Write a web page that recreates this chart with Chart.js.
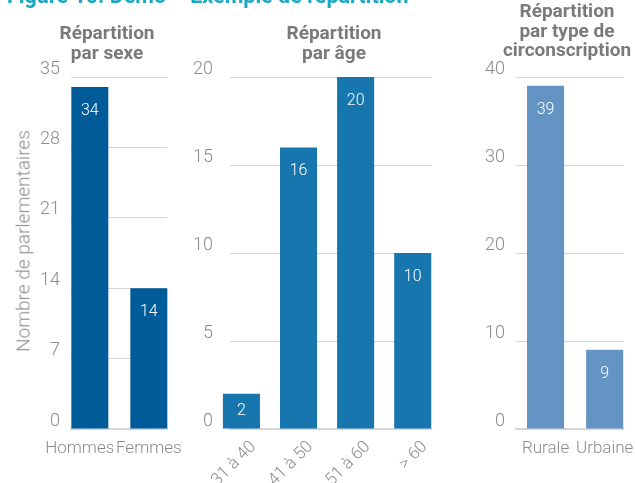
<!DOCTYPE html>
<html>
<head>
<meta charset="utf-8">
<script src="https://cdn.jsdelivr.net/npm/chart.js@4.4.1/dist/chart.umd.min.js"></script>
<style>
  body { margin: 0; width: 635px; height: 483px; overflow: hidden; background: #fff; position: relative;
         font-family: Roboto, 'Liberation Sans', sans-serif; }
  .box { position: absolute; top: 0; height: 483px; }
  .title { position: absolute; text-align: center; font-weight: bold; font-size: 19px; line-height: 19.5px;
           color: #7a7a7a; white-space: nowrap; }
  #fig { position: absolute; left: 7px; top: -17px; color: #1ba9c2; font-weight: bold; font-size: 21.5px; white-space: nowrap; }
  #ytitle { position: absolute; left: 23px; top: 241px; transform: translate(-50%, -50%) rotate(-90deg);
            color: #8c8c8c; font-weight: 300; font-size: 19px; white-space: nowrap; }
</style>
</head>
<body>
<div class="box" style="left:0;width:190px"><canvas id="sexChart"></canvas></div>
<div class="box" style="left:180px;width:265px"><canvas id="ageChart"></canvas></div>
<div class="box" style="left:445px;width:190px"><canvas id="zoneChart"></canvas></div>

<div id="fig">Figure 10. Démo – Exemple de répartition</div>
<div class="title" style="left:47px;width:120px;top:23px">Répartition<br>par sexe</div>
<div class="title" style="left:274px;width:120px;top:23px">Répartition<br>par âge</div>
<div class="title" style="left:492px;width:150px;top:1px">Répartition<br>par type de<br>circonscription</div>
<div id="ytitle"></div>

<script>
// data
const sexLabels = ['Hommes', 'Femmes'];
const sexValues = [34, 14];
const sexTicks = { max: 35, step: 7 };

const ageLabels = ['31 à 40', '41 à 50', '51 à 60', '> 60'];
const ageValues = [2, 16, 20, 10];
const ageTicks = { max: 20, step: 5 };

const zoneLabels = ['Rurale', 'Urbaine'];
const zoneValues = [39, 9];
const zoneTicks = { max: 40, step: 10 };

const yTitle = 'Nombre de parlementaires';
document.getElementById('ytitle').textContent = yTitle;

const GREY = '#8c8c8c';
const GRID = '#d6d6d6';
const FONT = "Roboto, 'Liberation Sans', sans-serif";

// white value labels inside the top of each bar
const valueLabels = {
    id: 'valueLabels',
    afterDatasetsDraw(chart) {
        const ctx = chart.ctx;
        const ds = chart.data.datasets[0];
        ctx.save();
        ctx.font = '300 16px ' + FONT;
        ctx.fillStyle = '#ffffff';
        ctx.textAlign = 'center';
        ctx.textBaseline = 'middle';
        chart.getDatasetMeta(0).data.forEach(function (bar, i) {
            const h = bar.base - bar.y;
            ctx.fillText(ds.data[i].y, bar.x, bar.y + Math.min(24, h / 2));
        });
        ctx.restore();
    }
};

function makeChart(id, labels, values, ticks, cfg) {
    const ctx = document.getElementById(id).getContext('2d');
    const shift = cfg.labelShift || [];
    return new Chart(ctx, {
        type: 'bar',
        data: {
            datasets: [{
                data: values.map((v, i) => ({ x: i, y: v })),
                backgroundColor: cfg.color,
                borderWidth: 0,
                categoryPercentage: 1,
                barPercentage: cfg.barPct,
                clip: false
            }]
        },
        options: {
            responsive: true,
            maintainAspectRatio: false,
            animation: false,
            layout: { padding: { top: 77, right: cfg.padRight, bottom: 0, left: 0 } },
            plugins: { legend: { display: false }, tooltip: { enabled: false } },
            scales: {
                x: {
                    type: 'linear',
                    offset: false,
                    min: cfg.xMin,
                    max: cfg.xMax,
                    afterBuildTicks: (scale) => {
                        scale.ticks = labels.map((l, i) => ({ value: i + (shift[i] || 0), label: l }));
                    },
                    afterFit: (scale) => {
                        scale.height = 54;
                        scale.paddingLeft = 0;
                        scale.paddingRight = 0;
                    },
                    grid: { display: false, drawTicks: false, offset: false },
                    border: { display: true, color: GRID, width: 2 },
                    ticks: {
                        autoSkip: false,
                        minRotation: cfg.rotate,
                        maxRotation: cfg.rotate,
                        padding: cfg.xPad,
                        labelOffset: cfg.xLabelOffset,
                        color: GREY,
                        font: { family: FONT, size: cfg.xFont, weight: 300 },
                        callback: (v, i) => labels[i] ?? ''
                    }
                },
                y: {
                    min: 0,
                    max: ticks.max,
                    afterFit: (scale) => {
                        scale.width = cfg.axisWidth;
                        scale.paddingTop = 0;
                        scale.paddingBottom = 0;
                    },
                    grid: { color: GRID, lineWidth: 1, drawTicks: false },
                    border: { display: false },
                    ticks: {
                        stepSize: ticks.step,
                        padding: cfg.yPad,
                        labelOffset: -8,
                        color: GREY,
                        font: { family: FONT, size: 18, weight: 300 }
                    }
                }
            }
        },
        plugins: [valueLabels]
    });
}

makeChart('sexChart', sexLabels, sexValues, sexTicks, {
    color: 'rgb(0,91,153)', xMin: -0.319, xMax: 1.308, barPct: 0.627,
    axisWidth: 71, padRight: 23, yPad: 11, xPad: 10, xLabelOffset: 0, xFont: 17, rotate: 0,
    labelShift: [-0.17, 0]
});
makeChart('ageChart', ageLabels, ageValues, ageTicks, {
    color: 'rgb(24,118,174)', xMin: -0.2, xMax: 3.32, barPct: 0.649,
    axisWidth: 50, padRight: 14, yPad: 17, xPad: 8, xLabelOffset: 12, xFont: 17, rotate: 45
});
makeChart('zoneChart', zoneLabels, zoneValues, zoneTicks, {
    color: 'rgb(99,148,196)', xMin: -0.5, xMax: 1.31, barPct: 0.627,
    axisWidth: 71, padRight: 12, yPad: 11, xPad: 10, xLabelOffset: 0, xFont: 17, rotate: 0
});
</script>
</body>
</html>
